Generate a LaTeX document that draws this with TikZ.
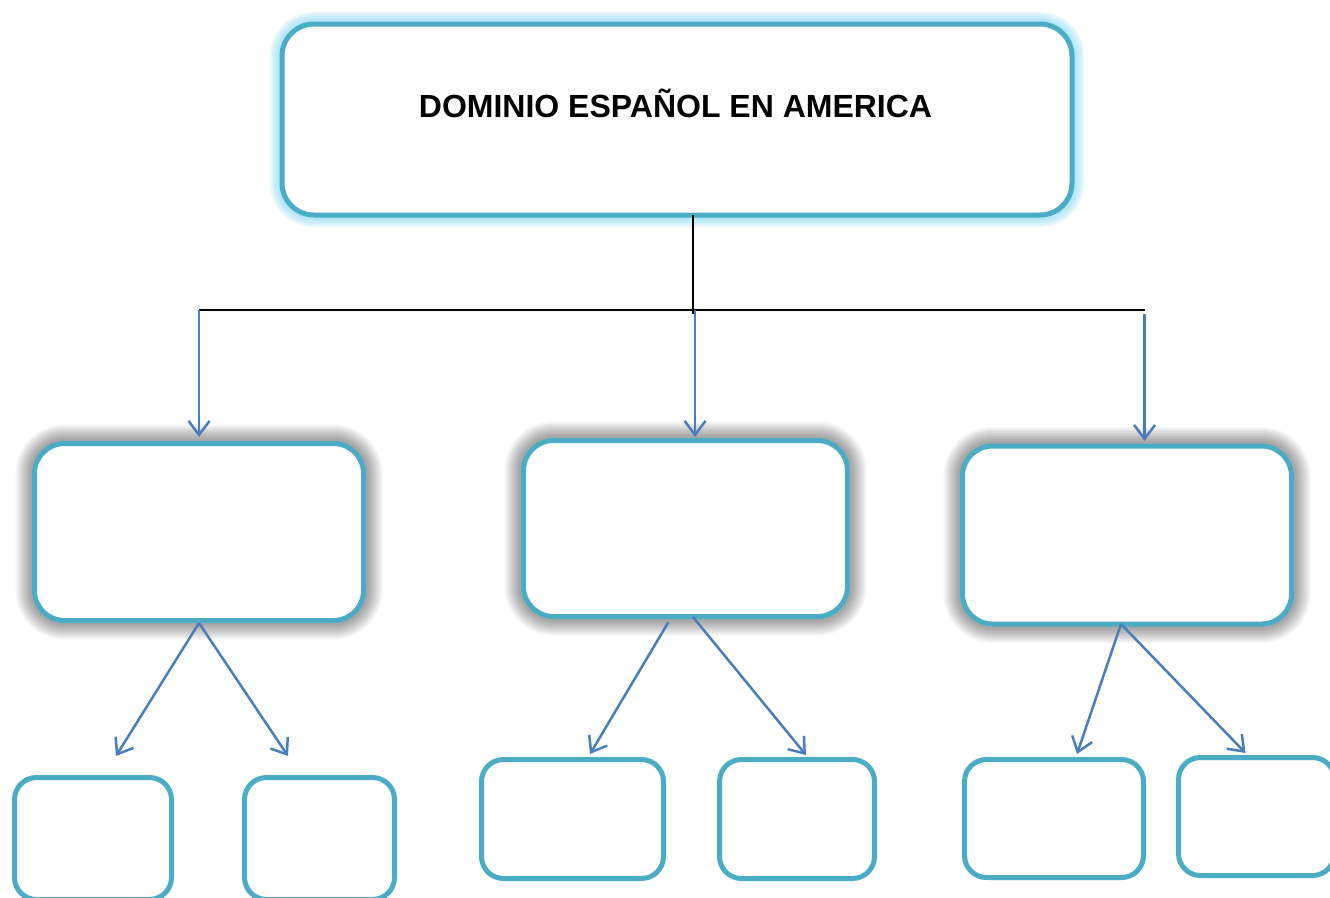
\documentclass[tikz,border=0pt]{standalone}
\usepackage{fontspec}
\setmainfont{Liberation Sans}
\usetikzlibrary{arrows.meta}
\definecolor{aqua}{HTML}{4BACC6}
\definecolor{arrowblue}{HTML}{4A7EBB}
\definecolor{glowcyan}{HTML}{8ADCF5}
\tikzset{
  box/.style={draw=aqua, line width=5pt, fill=white, rounded corners=#1,
    inner sep=0pt, outer sep=0pt},
  box/.default=22pt,
  topbox/.style={box=32pt,
    preaction={draw=glowcyan, draw opacity=0.18, line width=24pt},
    preaction={draw=glowcyan, draw opacity=0.18, line width=20pt},
    preaction={draw=glowcyan, draw opacity=0.18, line width=16pt},
    preaction={draw=glowcyan, draw opacity=0.2, line width=12pt},
    preaction={draw=glowcyan, draw opacity=0.2, line width=8pt}},
  midbox/.style={box=30pt,
    preaction={draw=black, draw opacity=0.04, line width=38pt},
    preaction={draw=black, draw opacity=0.05, line width=34pt},
    preaction={draw=black, draw opacity=0.05, line width=30pt},
    preaction={draw=black, draw opacity=0.05, line width=26pt},
    preaction={draw=black, draw opacity=0.05, line width=22pt},
    preaction={draw=black, draw opacity=0.05, line width=18pt},
    preaction={draw=black, draw opacity=0.05, line width=14pt},
    preaction={draw=black, draw opacity=0.05, line width=10pt}},
  smallbox/.style={box=22pt},
  blackline/.style={draw=black, line width=2pt},
  conn/.style={draw=arrowblue, line width=2.5pt,
    -{Straight Barb[length=14pt,width=21pt]}},
  title/.style={font=\bfseries\fontsize{32}{36}\selectfont, anchor=base, inner sep=0pt}
}
\begin{document}
\begin{tikzpicture}[x=1pt,y=-1pt]
\useasboundingbox (0,0) rectangle (1330,897);
\clip (0,0) rectangle (1330,897);
\fill[white] (0,0) rectangle (1330,897);

% top box
\node[topbox, minimum width=790pt, minimum height=191pt] (Top) at (677,119.5) {};
\node[title] (T) at (675.5,117) {DOMINIO ESPAÑOL EN AMERICA};

% middle boxes
\node[midbox, minimum width=329pt, minimum height=177pt] (L) at (199,532) {};
\node[midbox, minimum width=324pt, minimum height=176pt] (M) at (685.5,528.5) {};
\node[midbox, minimum width=329pt, minimum height=178pt] (R) at (1127,535) {};

% bottom boxes
\node[smallbox, minimum width=157pt, minimum height=122pt] (B1) at (93,838.5) {};
\node[smallbox, minimum width=150pt, minimum height=122pt] (B2) at (319.5,838.5) {};
\node[smallbox, minimum width=182pt, minimum height=119pt] (B3) at (572.5,819) {};
\node[smallbox, minimum width=155pt, minimum height=119pt] (B4) at (797,819) {};
\node[smallbox, minimum width=179pt, minimum height=118pt] (B5) at (1054,818.5) {};
\node[smallbox, minimum width=156pt, minimum height=118pt] (B6) at (1256.5,816.5) {};

% junction coordinates
\coordinate (jn) at (693,314);
\coordinate (hl) at (199,310);
\coordinate (hm) at (695,310);
\coordinate (hr) at (1145,310);
\coordinate (hrs) at (1144.5,314);

% black connectors
\draw[blackline] (Top.south -| jn) -- (jn);
\draw[blackline] (hl) -- (hr);

% arrows into middle boxes
\coordinate (tL) at (199,437);
\coordinate (tM) at (695,437);
\coordinate (tR) at (1144.5,441);
\draw[conn] (hl) -- (tL);
\draw[conn] (hm) -- (tM);
\draw[conn] (hrs) -- (tR);

% arrows into bottom boxes
\coordinate (sL) at (199,623);
\coordinate (t1) at (116,756);
\coordinate (t2) at (288,756);
\coordinate (sM1) at (668.5,622);
\coordinate (sM2) at (693,617);
\coordinate (t3) at (590,754);
\coordinate (t4) at (806,755);
\coordinate (sR) at (1121,624);
\coordinate (t5) at (1077,754);
\coordinate (t6) at (1245.5,753);
\draw[conn] (sL) -- (t1);
\draw[conn] (sL) -- (t2);
\draw[conn] (sM1) -- (t3);
\draw[conn] (sM2) -- (t4);
\draw[conn] (sR) -- (t5);
\draw[conn] (sR) -- (t6);
\end{tikzpicture}
\end{document}
